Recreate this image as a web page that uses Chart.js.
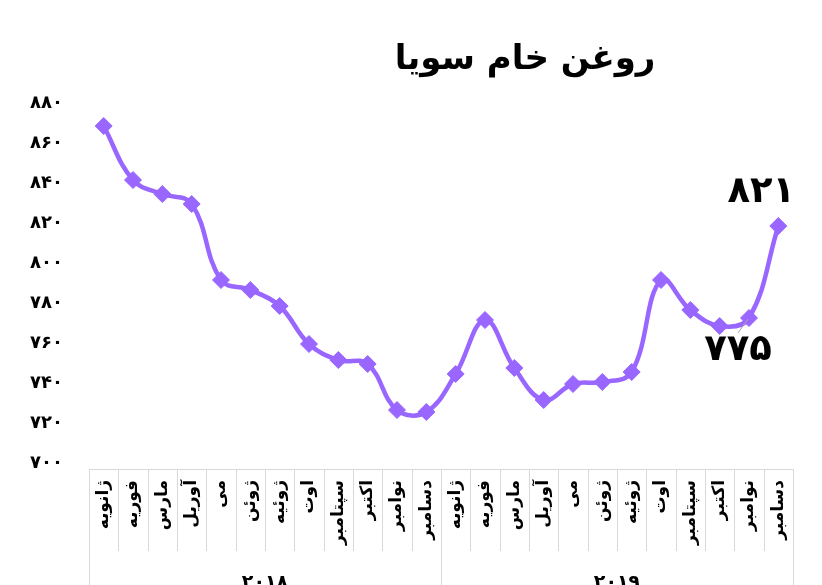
<!DOCTYPE html>
<html>
<head>
<meta charset="utf-8">
<script src="https://cdn.jsdelivr.net/npm/chart.js@4"></script>
<style>
  body { margin: 0; background: #fff; }
  #wrap { width: 822px; height: 585px; position: relative; }
</style>
</head>
<body>
<div id="wrap"><canvas id="chart"></canvas></div>
<script>
// داده‌ها
const title = 'روغن خام سویا';
const months = ['ژانویه', 'فوریه', 'مارس', 'آوریل', 'می', 'ژوئن', 'ژوئیه', 'اوت', 'سپتامبر', 'اکتبر', 'نوامبر', 'دسامبر'];
const years = ['۲۰۱۸', '۲۰۱۹'];
const labels = years.flatMap(() => months);
const prices = [871, 844, 837, 832, 794, 789, 781, 762, 754, 752, 729, 728,
                747, 774, 750, 734, 742, 743, 748, 794, 779, 771, 775, 821];
const labeledPoints = [22, 23]; // نوامبر و دسامبر ۲۰۱۹

const FONT = "'DejaVu Sans', sans-serif";
const faDigits = '۰۱۲۳۴۵۶۷۸۹';
const toFa = n => String(n).replace(/\d/g, d => faDigits[d]);

// عنوان، جعبه محور دوسطحی و برچسب داده‌ها
const extras = {
  id: 'extras',
  afterDraw(chart) {
    const { ctx, chartArea, scales } = chart;
    const x = scales.x;
    const top = chartArea.bottom + 1;
    const h = chart.height;
    ctx.save();

    ctx.font = 'bold 34px ' + FONT;
    ctx.fillStyle = '#000';
    ctx.textAlign = 'center';
    ctx.textBaseline = 'middle';
    ctx.fillText(title, 525, 60);

    // جعبه دسته‌ها
    ctx.strokeStyle = '#d9d9d9';
    ctx.lineWidth = 1;
    const half = (x.getPixelForValue(1) - x.getPixelForValue(0)) / 2;
    ctx.beginPath();
    ctx.moveTo(chartArea.left, top + 0.5);
    ctx.lineTo(chartArea.right, top + 0.5);
    labels.forEach((_, i) => {
      const px = Math.round(x.getPixelForValue(i) - half) + 0.5;
      ctx.moveTo(px, top);
      ctx.lineTo(px, i % 12 === 0 ? h : top + 82);
    });
    const pr = Math.round(x.getPixelForValue(labels.length - 1) + half) + 0.5;
    ctx.moveTo(pr, top);
    ctx.lineTo(pr, h);
    ctx.stroke();

    ctx.font = 'bold 19px ' + FONT;
    ctx.fillStyle = '#000';
    years.forEach((y, k) => {
      const a = x.getPixelForValue(k * 12) - half;
      const b = x.getPixelForValue(k * 12 + 11) + half;
      ctx.fillText(y, (a + b) / 2, h - 2);
    });

    // برچسب داده‌ها
    const meta = chart.getDatasetMeta(0);
    ctx.font = 'bold 37px ' + FONT;
    labeledPoints.forEach(i => {
      const p = meta.data[i];
      const v = prices[i];
      const above = i === labeledPoints[labeledPoints.length - 1];
      if (above) {
        ctx.fillText(toFa(v), p.x - 17, p.y - 34);
      } else {
        ctx.strokeStyle = '#a6a6a6';
        ctx.beginPath();
        ctx.moveTo(p.x - 1, p.y + 1);
        ctx.lineTo(p.x - 11, p.y + 15);
        ctx.stroke();
        ctx.fillText(toFa(v), p.x - 11, p.y + 32);
      }
    });
    ctx.restore();
  }
};

new Chart(document.getElementById('chart').getContext('2d'), {
  type: 'line',
  data: {
    labels,
    datasets: [{
      data: prices,
      borderColor: '#9966ff',
      backgroundColor: '#9966ff',
      borderWidth: 4.5,
      tension: 0.4,
      pointStyle: 'rectRot',
      pointRadius: 8.5,
      pointBorderWidth: 1,
      fill: false
    }]
  },
  options: {
    responsive: true,
    maintainAspectRatio: false,
    animation: false,
    layout: { padding: { top: 108, right: 29, left: 0, bottom: 0 } },
    scales: {
      x: {
        offset: true,
        grid: { display: false, drawTicks: false },
        border: { display: false },
        afterFit: s => { s.height = 117; },
        ticks: {
          autoSkip: false,
          minRotation: 90,
          maxRotation: 90,
          padding: 12,
          color: '#000',
          font: { family: FONT, size: 17, weight: 'bold' }
        }
      },
      y: {
        min: 700,
        max: 880,
        grid: { display: false, drawTicks: false },
        border: { display: false },
        afterFit: s => { s.width = 89; },
        ticks: {
          stepSize: 20,
          padding: 26,
          labelOffset: -5,
          color: '#000',
          font: { family: FONT, size: 18, weight: 'bold' },
          callback: v => toFa(v)
        }
      }
    },
    plugins: {
      legend: { display: false },
      title: { display: false },
      tooltip: { enabled: false }
    }
  },
  plugins: [extras]
});
</script>
</body>
</html>
